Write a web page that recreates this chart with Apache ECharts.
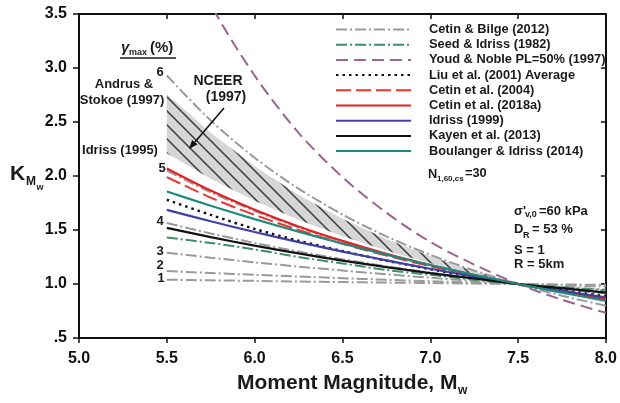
<!DOCTYPE html>
<html>
<head>
<meta charset="utf-8">
<script src="https://cdn.jsdelivr.net/npm/echarts@6/dist/echarts.min.js"></script>
<style>html,body{margin:0;padding:0;background:#fff}#c{width:620px;height:403px}</style>
</head>
<body>
<div id="c"></div>
<script>
// ---- data ----
const mw = [5.5, 5.75, 6.0, 6.25, 6.5, 6.75, 7.0, 7.25, 7.5, 7.75, 8.0];
const xTicks = [5.0, 5.5, 6.0, 6.5, 7.0, 7.5, 8.0];
const yTicks = [0.5, 1.0, 1.5, 2.0, 2.5, 3.0, 3.5];
// Cetin & Bilge (2012), gamma_max = 1..6 %
const cetinBilgeG1 = [1.04, 1.034, 1.029, 1.023, 1.018, 1.013, 1.009, 1.004, 1.0, 0.996, 0.992];
const cetinBilgeG2 = [1.12, 1.102, 1.085, 1.069, 1.054, 1.039, 1.026, 1.012, 1.0, 0.988, 0.977];
const cetinBilgeG3 = [1.29, 1.244, 1.201, 1.161, 1.125, 1.09, 1.058, 1.028, 1.0, 0.973, 0.948];
const cetinBilgeG4 = [1.565, 1.468, 1.38, 1.301, 1.23, 1.164, 1.105, 1.05, 1.0, 0.954, 0.911];
const cetinBilgeG5 = [2.05, 1.849, 1.676, 1.525, 1.393, 1.276, 1.173, 1.082, 1.0, 0.927, 0.861];
const cetinBilgeG6 = [2.93, 2.514, 2.169, 1.883, 1.643, 1.441, 1.27, 1.125, 1.0, 0.892, 0.799];
const seedIdriss1982 = [1.43, 1.38, 1.32, 1.25, 1.19, 1.13, 1.085, 1.04, 1.0, 0.97, 0.94];
const youdNoble1997 = [4.45, 3.59, 2.93, 2.40, 1.99, 1.66, 1.39, 1.18, 1.0, 0.854, 0.733];
const liu2001 = [1.78, 1.64, 1.51, 1.40, 1.305, 1.216, 1.137, 1.065, 1.0, 0.941, 0.887];
const cetin2004 = [1.99, 1.80, 1.64, 1.50, 1.373, 1.263, 1.165, 1.078, 1.0, 0.93, 0.867];
const cetin2018a = [2.07, 1.865, 1.688, 1.533, 1.399, 1.28, 1.176, 1.083, 1.0, 0.926, 0.86];
const idriss1999 = [1.686, 1.581, 1.481, 1.388, 1.30, 1.219, 1.141, 1.069, 1.0, 0.936, 0.876];
const kayen2013 = [1.52, 1.434, 1.355, 1.283, 1.217, 1.157, 1.101, 1.051, 1.0, 0.961, 0.921];
const boulangerIdriss2014 = [1.856, 1.725, 1.601, 1.485, 1.375, 1.272, 1.176, 1.086, 1.0, 0.92, 0.844];
// NCEER (1997) band
const nceerMw = [5.5, 5.75, 6.0, 6.25, 6.5, 6.75, 7.0, 7.25, 7.5];
const andrusStokoe1997 = [2.76, 2.40, 2.09, 1.825, 1.604, 1.416, 1.256, 1.118, 1.0];
const idriss1995 = [2.21, 1.974, 1.77, 1.595, 1.442, 1.31, 1.193, 1.091, 1.0];

const FONT = 'Liberation Sans';
const pair = arr => mw.map((m, i) => [m, arr[i]]);

// hatch pattern for the NCEER band
const cv = document.createElement('canvas');
cv.width = 14; cv.height = 14;
const cx = cv.getContext('2d');
cx.fillStyle = '#d6d6d6'; cx.fillRect(0, 0, 14, 14);
cx.strokeStyle = '#3a3a3a'; cx.lineWidth = 1.5;
cx.beginPath();
cx.moveTo(-1, -1); cx.lineTo(15, 15);
cx.moveTo(-1, 13); cx.lineTo(1, 15);
cx.moveTo(13, -1); cx.lineTo(15, 1);
cx.stroke();

function line(name, data, color, type, width, z) {
  return {
    type: 'line', name: name, data: pair(data), symbol: 'none', showSymbol: false, smooth: 0.3, z: z || 3,
    lineStyle: { color: color, type: type, width: width || 2 }, itemStyle: { color: color },
    clip: true, silent: true
  };
}
const CB = '#9a9a9a', DD = [11, 3, 2, 3];

const series = [
  {
    type: 'custom', name: 'NCEER (1997)', coordinateSystem: 'cartesian2d', silent: true, z: 1,
    data: [[6.5, 1.5]],
    renderItem: function (params, api) {
      const pts = [];
      for (let i = 0; i < nceerMw.length; i++) pts.push(api.coord([nceerMw[i], andrusStokoe1997[i]]));
      for (let i = nceerMw.length - 1; i >= 0; i--) pts.push(api.coord([nceerMw[i], idriss1995[i]]));
      return { type: 'polygon', shape: { points: pts }, style: { fill: { image: cv, repeat: 'repeat' }, stroke: null } };
    }
  },
  line('Cetin & Bilge (2012)', cetinBilgeG1, CB, DD, 2),
  line('Cetin & Bilge (2012)', cetinBilgeG2, CB, DD, 2),
  line('Cetin & Bilge (2012)', cetinBilgeG3, CB, DD, 2),
  line('Cetin & Bilge (2012)', cetinBilgeG4, CB, DD, 2),
  line('Cetin & Bilge (2012)', cetinBilgeG5, CB, DD, 2),
  line('Cetin & Bilge (2012)', cetinBilgeG6, CB, DD, 2),
  line('Seed & Idriss (1982)', seedIdriss1982, '#3f8f66', DD, 2),
  line('Youd & Noble PL=50% (1997)', youdNoble1997, '#9a6590', [12, 6], 2),
  line('Liu et al. (2001) Average', liu2001, '#111111', [2.5, 4], 2.5, 4),
  line('Cetin et al. (2004)', cetin2004, '#e8352e', [15, 5], 2, 4),
  line('Cetin et al. (2018a)', cetin2018a, '#e62020', 'solid', 2.2, 5),
  line('Idriss (1999)', idriss1999, '#3f3fa6', 'solid', 2.2, 5),
  line('Kayen et al. (2013)', kayen2013, '#111111', 'solid', 2.2, 5),
  line('Boulanger & Idriss (2014)', boulangerIdriss2014, '#1f8a7c', 'solid', 2.2, 5)
];

const axisCommon = {
  type: 'value', splitLine: { show: false },
  axisLine: { show: true, onZero: false, lineStyle: { color: '#111', width: 2 } }
};

function txt(x, y, s, size, opts) {
  opts = opts || {};
  return {
    type: 'text', x: x, y: y, z: 20, silent: true,
    style: {
      text: s, fill: '#1a1a1a', font: (opts.italic ? 'italic ' : '') + 'bold ' + size + 'px "' + FONT + '"',
      textAlign: opts.align || 'left', textVerticalAlign: 'middle'
    }
  };
}

const graphics = [
  // y axis title K_Mw
  txt(10, 174, 'K', 21), txt(26, 182, 'M', 12), txt(36.5, 188, 'w', 9),
  // x axis title
  txt(237, 383, 'Moment Magnitude, M', 21), txt(458, 391, 'w', 12),
  // gamma max header
  txt(121, 48, 'γ', 15, { italic: true }), txt(129, 53, 'max', 9), txt(150, 48, '(%)', 15),
  { type: 'line', z: 20, silent: true, shape: { x1: 120, y1: 58, x2: 176, y2: 58 }, style: { stroke: '#1a1a1a', lineWidth: 1.5 } },
  // Andrus & Stokoe, Idriss 1995, NCEER
  txt(124, 84, 'Andrus &', 13, { align: 'center' }),
  txt(122, 100, 'Stokoe (1997)', 13, { align: 'center' }),
  txt(120, 150, 'Idriss (1995)', 13, { align: 'center' }),
  txt(218, 81, 'NCEER', 14, { align: 'center' }),
  txt(226, 97, '(1997)', 14, { align: 'center' }),
  { type: 'line', z: 20, silent: true, shape: { x1: 224, y1: 108, x2: 195, y2: 142 }, style: { stroke: '#111', lineWidth: 1.6 } },
  { type: 'polygon', z: 20, silent: true, shape: { points: [[189, 149], [197.5, 144.3], [192.1, 139.9]] }, style: { fill: '#111' } },
  // gamma labels
  txt(160, 72, '6', 13, { align: 'center' }),
  txt(162, 168, '5', 13, { align: 'center' }),
  txt(160, 221, '4', 13, { align: 'center' }),
  txt(160, 251, '3', 13, { align: 'center' }),
  txt(160, 265, '2', 13, { align: 'center' }),
  txt(161, 278, '1', 13, { align: 'center' }),
  // N1,60,cs = 30
  txt(428, 174, 'N', 12.8), txt(437, 179, '1,60,cs', 8), txt(465, 173, '=30', 12.8),
  // conditions
  txt(514, 211, "σ'", 13), txt(525, 215, 'v,0', 9), txt(539, 211, '=60 kPa', 13),
  txt(514, 229, 'D', 13), txt(523, 236, 'R', 9), txt(532, 229, '= 53 %', 13),
  txt(514, 250, 'S = 1', 13),
  txt(514, 264, 'R = 5km', 13)
];

const chart = echarts.init(document.getElementById('c'), null, { renderer: 'canvas' });
chart.setOption({
  backgroundColor: '#fff',
  animation: false,
  grid: { left: 79, right: 14, top: 14, bottom: 65, containLabel: false },
  xAxis: [
    Object.assign({}, axisCommon, {
      min: xTicks[0], max: xTicks[xTicks.length - 1], interval: 0.5, position: 'bottom',
      axisTick: { show: true, inside: false, length: 5, lineStyle: { color: '#111', width: 1.5 } },
      axisLabel: { margin: 13, fontFamily: FONT, fontWeight: 'bold', fontSize: 16, color: '#111', formatter: v => v.toFixed(1) }
    }),
    Object.assign({}, axisCommon, {
      min: xTicks[0], max: xTicks[xTicks.length - 1], interval: 0.5, position: 'top',
      axisTick: { show: true, inside: true, length: 5, lineStyle: { color: '#111', width: 1.5 } },
      axisLabel: { show: false }
    })
  ],
  yAxis: [
    Object.assign({}, axisCommon, {
      min: yTicks[0], max: yTicks[yTicks.length - 1], interval: 0.5, position: 'left',
      axisTick: { show: true, inside: false, length: 6, lineStyle: { color: '#111', width: 1.5 } },
      axisLabel: { margin: 12, fontFamily: FONT, fontWeight: 'bold', fontSize: 16, color: '#111',
        formatter: v => (v === 0.5 ? '.5' : v.toFixed(1)) }
    }),
    Object.assign({}, axisCommon, {
      min: yTicks[0], max: yTicks[yTicks.length - 1], interval: 0.5, position: 'right',
      axisTick: { show: true, inside: true, length: 5, lineStyle: { color: '#111', width: 1.5 } },
      axisLabel: { show: false }
    })
  ],
  legend: {
    data: ['Cetin & Bilge (2012)', 'Seed & Idriss (1982)', 'Youd & Noble PL=50% (1997)',
      'Liu et al. (2001) Average', 'Cetin et al. (2004)', 'Cetin et al. (2018a)', 'Idriss (1999)',
      'Kayen et al. (2013)', 'Boulanger & Idriss (2014)'],
    orient: 'vertical', left: 335, top: 23, padding: 0,
    itemWidth: 75, itemHeight: 14, itemGap: 2.2, selectedMode: false,
    itemStyle: { opacity: 0, borderWidth: 0 },
    textStyle: { fontFamily: FONT, fontWeight: 'bold', fontSize: 12.8, color: '#1a1a1a', padding: [0, 0, 0, 13] }
  },
  series: series,
  graphic: graphics
});
</script>
</body>
</html>
